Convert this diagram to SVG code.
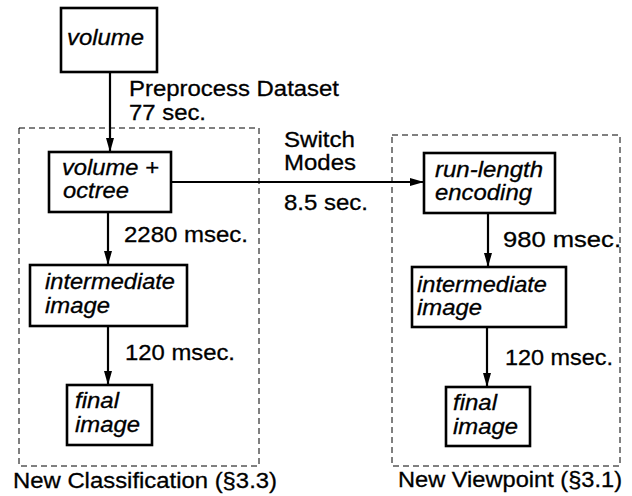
<svg xmlns="http://www.w3.org/2000/svg" width="632" height="496" viewBox="0 0 632 496">
<style>
text{font-family:"Liberation Sans",Arial,sans-serif;font-size:22px;fill:#000;stroke:#000;stroke-width:0.3}
.n{font-style:italic}
.box{fill:#fff;stroke:#000;stroke-width:2.6}
.dash{fill:none;stroke:#000;stroke-width:1;stroke-dasharray:6 4}
.con{fill:none;stroke:#000;stroke-width:2.2;marker-end:url(#ah)}
</style>
<defs>
<marker id="ah" viewBox="0 0 14 8" refX="14" refY="4" markerWidth="14" markerHeight="8" markerUnits="userSpaceOnUse" orient="auto">
<path d="M0,0 L14,4 L0,8 Z" fill="#000"/>
</marker>
</defs>
<rect fill="#fff" width="632" height="496"/>
<g id="groups">
<rect class="dash" x="19" y="128" width="240" height="338"/>
<rect class="dash" x="392" y="135" width="228" height="331"/>
<text x="13" y="488" textLength="264" lengthAdjust="spacingAndGlyphs">New Classification (§3.3)</text>
<text x="398" y="487" textLength="224" lengthAdjust="spacingAndGlyphs">New Viewpoint (§3.1)</text>
</g>
<g id="connectors">
<line class="con" x1="110" y1="72" x2="110" y2="152"/>
<line class="con" x1="171" y1="182" x2="424" y2="182"/>
<line class="con" x1="108" y1="212" x2="108" y2="265"/>
<line class="con" x1="108" y1="326" x2="108" y2="385"/>
<line class="con" x1="488" y1="213" x2="488" y2="267"/>
<line class="con" x1="487" y1="327" x2="487" y2="387"/>
<text x="129" y="96" textLength="210" lengthAdjust="spacingAndGlyphs">Preprocess Dataset</text>
<text x="129" y="120" textLength="77" lengthAdjust="spacingAndGlyphs">77 sec.</text>
<text x="284" y="147" textLength="71" lengthAdjust="spacingAndGlyphs">Switch</text>
<text x="284" y="170" textLength="72" lengthAdjust="spacingAndGlyphs">Modes</text>
<text x="284" y="210" textLength="84" lengthAdjust="spacingAndGlyphs">8.5 sec.</text>
<text x="124" y="242" textLength="124" lengthAdjust="spacingAndGlyphs">2280 msec.</text>
<text x="125" y="360" textLength="110" lengthAdjust="spacingAndGlyphs">120 msec.</text>
<text x="503" y="247" textLength="118" lengthAdjust="spacingAndGlyphs">980 msec.</text>
<text x="505" y="365" textLength="108" lengthAdjust="spacingAndGlyphs">120 msec.</text>
</g>
<g id="volume">
<rect class="box" x="61" y="8" width="96" height="64"/>
<text class="n" x="67" y="45" textLength="77" lengthAdjust="spacingAndGlyphs">volume</text>
</g>
<g id="volume-octree">
<rect class="box" x="49" y="152" width="122" height="60"/>
<text class="n" x="62" y="175" textLength="97" lengthAdjust="spacingAndGlyphs">volume +</text>
<text class="n" x="63" y="198" textLength="66" lengthAdjust="spacingAndGlyphs">octree</text>
</g>
<g id="intermediate-left">
<rect class="box" x="30" y="265" width="157" height="61"/>
<text class="n" x="45" y="289" textLength="130" lengthAdjust="spacingAndGlyphs">intermediate</text>
<text class="n" x="45" y="313" textLength="65" lengthAdjust="spacingAndGlyphs">image</text>
</g>
<g id="final-left">
<rect class="box" x="67" y="385" width="85" height="60"/>
<text class="n" x="75" y="408" textLength="44" lengthAdjust="spacingAndGlyphs">final</text>
<text class="n" x="75" y="432" textLength="65" lengthAdjust="spacingAndGlyphs">image</text>
</g>
<g id="run-length">
<rect class="box" x="424" y="153" width="131" height="60"/>
<text class="n" x="435" y="177" textLength="108" lengthAdjust="spacingAndGlyphs">run-length</text>
<text class="n" x="435" y="200" textLength="97" lengthAdjust="spacingAndGlyphs">encoding</text>
</g>
<g id="intermediate-right">
<rect class="box" x="412" y="267" width="154" height="60"/>
<text class="n" x="417" y="292" textLength="130" lengthAdjust="spacingAndGlyphs">intermediate</text>
<text class="n" x="417" y="315" textLength="65" lengthAdjust="spacingAndGlyphs">image</text>
</g>
<g id="final-right">
<rect class="box" x="446" y="387" width="84" height="59"/>
<text class="n" x="453" y="410" textLength="44" lengthAdjust="spacingAndGlyphs">final</text>
<text class="n" x="453" y="434" textLength="65" lengthAdjust="spacingAndGlyphs">image</text>
</g>
</svg>
